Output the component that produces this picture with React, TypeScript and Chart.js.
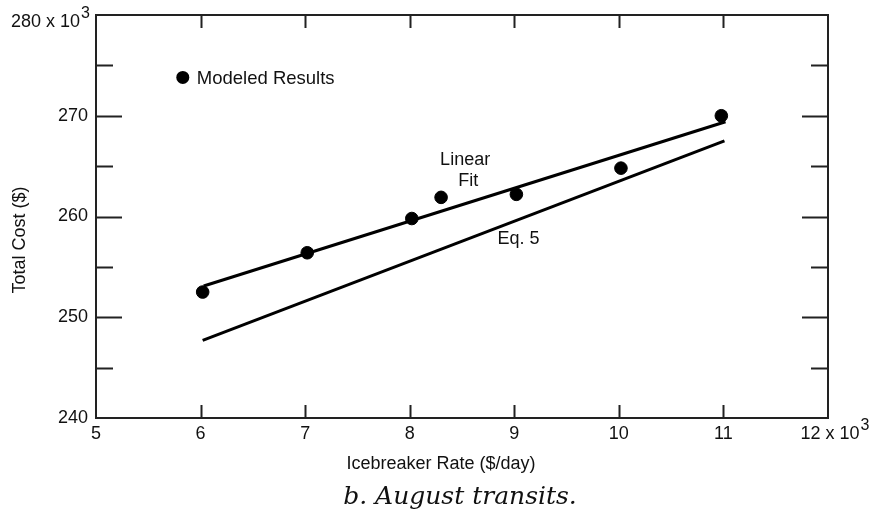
import React, { useEffect, useRef } from "react";
import { Chart, registerables } from "chart.js";

Chart.register(...registerables);

// Icebreaker rate (x 10^3 $/day) and total cost (x 10^3 $)
const modeledRate = [6.02, 7.02, 8.02, 8.3, 9.02, 10.02, 10.98];
const modeledCost = [252.5, 256.4, 259.8, 261.9, 262.2, 264.8, 270.0];
const fitRate = [6.03, 11.02];
const fitCost = [253.1, 269.4];
const eq5Rate = [6.02, 11.01];
const eq5Cost = [247.7, 267.5];

const xTickValues = [5, 6, 7, 8, 9, 10, 11, 12];
const yMajorValues = [240, 250, 260, 270, 280];
const yMinorValues = [245, 255, 265, 275];
const xMaxLabel = { base: "12 x 10", exp: "3" };
const yMaxLabel = { base: "280 x 10", exp: "3" };

const legendLabel = "Modeled Results";
const xTitle = "Icebreaker Rate ($/day)";
const yTitle = "Total Cost ($)";
const caption = "b. August transits.";
const notes = [
  { text: "Linear", x: 8.53, y: 265.6 },
  { text: "Fit", x: 8.56, y: 263.5 },
  { text: "Eq. 5", x: 9.04, y: 257.8 },
];
const legendPos = { x: 5.83, y: 273.8 };

const SANS = "'Liberation Sans', Arial, Helvetica, sans-serif";

const framePlugin = {
  id: "frame",
  afterDraw(chart: any) {
    const { ctx, chartArea: a, scales } = chart;
    const xs = scales.x;
    const ys = scales.y;
    ctx.save();
    ctx.strokeStyle = "#222";
    ctx.lineWidth = 2;
    ctx.strokeRect(a.left, a.top, a.right - a.left, a.bottom - a.top);
    ctx.beginPath();
    xTickValues.forEach((v) => {
      if (v <= 5 || v >= 12) return;
      const px = Math.round(xs.getPixelForValue(v)) + 0.5;
      ctx.moveTo(px, a.bottom);
      ctx.lineTo(px, a.bottom - 13);
      ctx.moveTo(px, a.top);
      ctx.lineTo(px, a.top + 13);
    });
    const yt = (v: number, len: number) => {
      const py = Math.round(ys.getPixelForValue(v)) + 0.5;
      ctx.moveTo(a.left, py);
      ctx.lineTo(a.left + len, py);
      ctx.moveTo(a.right, py);
      ctx.lineTo(a.right - len, py);
    };
    yMajorValues.forEach((v) => {
      if (v > 240 && v < 280) yt(v, 26);
    });
    yMinorValues.forEach((v) => yt(v, 17));
    ctx.stroke();

    ctx.fillStyle = "#111";
    ctx.textBaseline = "alphabetic";
    // axis-end labels with superscript exponent
    const drawSup = (lbl: { base: string; exp: string }, x: number, baseY: number, align: string) => {
      ctx.font = `18px ${SANS}`;
      const wb = ctx.measureText(lbl.base).width;
      ctx.font = `16px ${SANS}`;
      const we = ctx.measureText(lbl.exp).width;
      const total = wb + we + 1;
      const start = align === "right" ? x - total : x - total / 2;
      ctx.textAlign = "left";
      ctx.font = `18px ${SANS}`;
      ctx.fillText(lbl.base, start, baseY);
      ctx.font = `16px ${SANS}`;
      ctx.fillText(lbl.exp, start + wb + 1, baseY - 9);
    };
    drawSup(yMaxLabel, a.left - 6, ys.getPixelForValue(280) + 12, "right");
    drawSup(xMaxLabel, xs.getPixelForValue(12) + 7, a.bottom + 21, "center");

    // legend
    ctx.fillStyle = "#000";
    const lx = xs.getPixelForValue(legendPos.x);
    const ly = ys.getPixelForValue(legendPos.y);
    ctx.beginPath();
    ctx.arc(lx, ly, 6.5, 0, Math.PI * 2);
    ctx.fill();
    ctx.font = `18.5px ${SANS}`;
    ctx.fillStyle = "#111";
    ctx.textAlign = "left";
    ctx.textBaseline = "middle";
    ctx.fillText(legendLabel, lx + 14, ly + 1);

    // notes
    ctx.font = `18px ${SANS}`;
    ctx.textAlign = "center";
    notes.forEach((n) => {
      ctx.fillText(n.text, xs.getPixelForValue(n.x), ys.getPixelForValue(n.y));
    });

    // axis titles
    ctx.fillText(xTitle, a.left + 345, a.bottom + 46);
    ctx.save();
    ctx.translate(20, a.top + 225);
    ctx.rotate(-Math.PI / 2);
    ctx.fillText(yTitle, 0, 0);
    ctx.restore();

    // caption
    ctx.font = `italic 25px 'DejaVu Serif', serif`;
    ctx.fillText(caption, a.left + 364, a.bottom + 79);
    ctx.restore();
  },
};

export default function App() {
  const ref = useRef<HTMLCanvasElement | null>(null);
  useEffect(() => {
    if (!ref.current) return;
    const chart = new Chart(ref.current, {
      type: "scatter",
      data: {
        datasets: [
          {
            label: legendLabel,
            data: modeledRate.map((x, i) => ({ x, y: modeledCost[i] })),
            backgroundColor: "#000",
            borderColor: "#000",
            pointRadius: 6.3,
            pointHoverRadius: 6.3,
            order: 0,
          },
          {
            label: "Linear Fit",
            type: "line",
            data: fitRate.map((x, i) => ({ x, y: fitCost[i] })),
            borderColor: "#000",
            borderWidth: 3,
            pointRadius: 0,
            fill: false,
            order: 1,
          },
          {
            label: "Eq. 5",
            type: "line",
            data: eq5Rate.map((x, i) => ({ x, y: eq5Cost[i] })),
            borderColor: "#000",
            borderWidth: 3,
            pointRadius: 0,
            fill: false,
            order: 1,
          },
        ],
      },
      options: {
        responsive: false,
        animation: false,
        layout: { padding: { top: 15, right: 45, left: 0, bottom: 0 } },
        plugins: {
          legend: { display: false },
          tooltip: { enabled: false },
        },
        scales: {
          x: {
            type: "linear",
            min: 5,
            max: 12,
            grid: { display: false, drawTicks: false },
            border: { display: false },
            afterFit: (s: any) => {
              s.height = 96;
              s.paddingLeft = 0;
              s.paddingRight = 0;
            },
            afterBuildTicks: (s: any) => {
              s.ticks = xTickValues.map((v) => ({ value: v }));
            },
            ticks: {
              padding: 5,
              color: "#111",
              font: { family: SANS, size: 18 },
              maxRotation: 0,
              callback: (v: any) => (v === 12 ? "" : String(v)),
            },
          },
          y: {
            type: "linear",
            min: 240,
            max: 280,
            grid: { display: false, drawTicks: false },
            border: { display: false },
            afterFit: (s: any) => {
              s.width = 96;
              s.paddingTop = 0;
              s.paddingBottom = 0;
            },
            afterBuildTicks: (s: any) => {
              s.ticks = yMajorValues.map((v) => ({ value: v }));
            },
            ticks: {
              padding: 8,
              color: "#111",
              font: { family: SANS, size: 18 },
              callback: (v: any) => (v === 280 ? "" : String(v)),
            },
          },
        },
      },
      plugins: [framePlugin],
    });
    return () => chart.destroy();
  }, []);
  return (
    <div style={{ position: "absolute", left: 0, top: 0, width: 873, height: 514, background: "#fff" }}>
      <canvas ref={ref} width={873} height={514} />
    </div>
  );
}
